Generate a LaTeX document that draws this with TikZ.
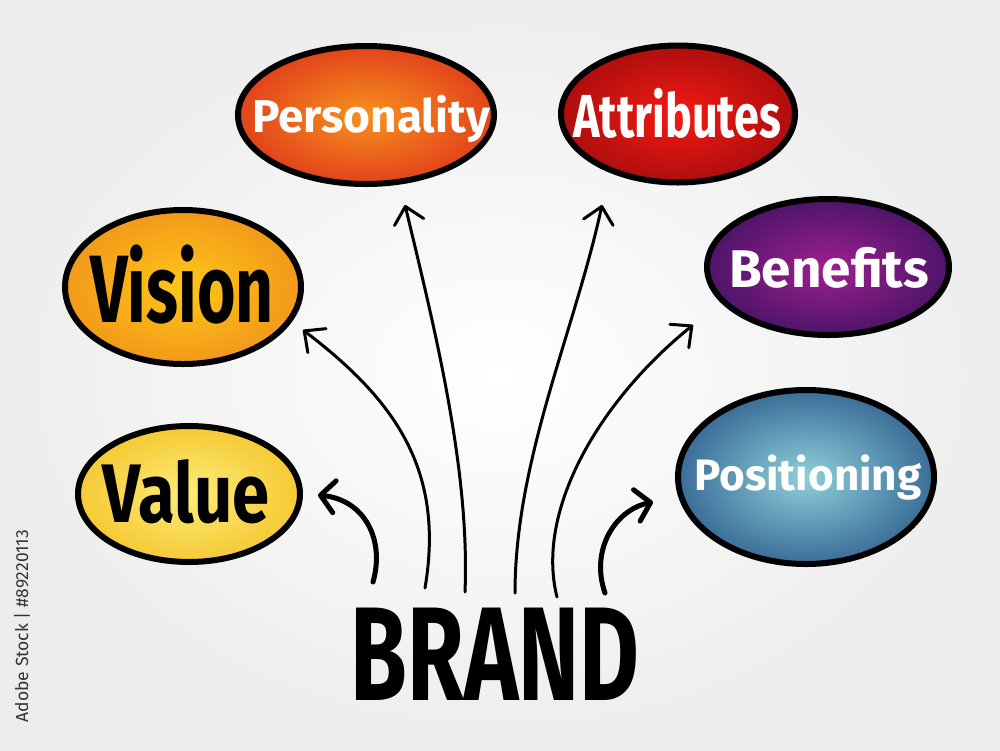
\documentclass[tikz,border=0pt]{standalone}
\usepackage{fontspec}
\usepackage{graphicx}
\setmainfont{Fira Sans}
\usetikzlibrary{shapes.geometric,arrows.meta}
\definecolor{persIn}{HTML}{F7921E}
\definecolor{persOut}{HTML}{E2431A}
\definecolor{attrIn}{HTML}{F41A12}
\definecolor{attrOut}{HTML}{AE0E0E}
\definecolor{visIn}{HTML}{FDC816}
\definecolor{visOut}{HTML}{F2991B}
\definecolor{valIn}{HTML}{FCEE78}
\definecolor{valOut}{HTML}{F5C934}
\definecolor{benIn}{HTML}{9E2090}
\definecolor{benOut}{HTML}{4E1468}
\definecolor{posIn}{HTML}{8ED0DA}
\definecolor{posOut}{HTML}{3A6D98}
\begin{document}
\begin{tikzpicture}[x=1pt,y=-1pt,
  bubble/.style={ellipse, draw=black, line width=6pt, inner sep=0pt},
  lbl/.style={anchor=base, inner sep=0pt},
  arr/.style={line width=3pt, line cap=round, -{Straight Barb[length=16pt,width=30pt,round]}},
  bigarr/.style={line width=5pt, line cap=round, -{Straight Barb[length=14pt,width=32pt,round]}}]
\useasboundingbox (0,0) rectangle (1000,750);
\shade[inner color=white, outer color=black!7] (0,0) rectangle (1000,750);

% bubbles
\node[bubble, minimum width=256pt, minimum height=138pt, inner color=persIn, outer color=persOut] (pers) at (366,115) {};
\node[bubble, minimum width=234pt, minimum height=137pt, inner color=attrIn, outer color=attrOut] (attr) at (678,114) {};
\node[bubble, minimum width=236pt, minimum height=154pt, inner color=visIn, outer color=visOut] (vis) at (183,287) {};
\node[bubble, minimum width=222pt, minimum height=136pt, inner color=valIn, outer color=valOut] (val) at (189,494) {};
\node[bubble, minimum width=242pt, minimum height=136pt, inner color=benIn, outer color=benOut] (ben) at (828,267) {};
\node[bubble, minimum width=256pt, minimum height=174pt, inner color=posIn, outer color=posOut] (pos) at (806,477) {};

% labels
\node[lbl, text=white, font=\bfseries\fontsize{46}{50}\selectfont] (persT) at (371,132) {Personality};
\node[lbl, text=white, font=\bfseries\fontsize{45}{50}\selectfont] (attrT) at (677,137) {\scalebox{1}[1.35]{Attributes}};
\node[lbl, text=black, font=\bfseries\fontsize{66}{70}\selectfont] (visT) at (182,322) {\scalebox{1}[1.45]{Vision}};
\node[lbl, text=black, font=\bfseries\fontsize{67}{70}\selectfont] (valT) at (186,522) {\scalebox{1}[1.24]{Value}};
\node[lbl, text=white, font=\bfseries\fontsize{53}{56}\selectfont] (benT) at (829,287) {Benefits};
\node[lbl, text=white, font=\bfseries\fontsize{44}{50}\selectfont] (posT) at (808,490) {Positioning};
\node[lbl, text=black, font=\bfseries\fontsize{92}{96}\selectfont] (brand) at (495,700) {\scalebox{1}[1.45]{BRAND}};

% watermark caption
\node[rotate=90, text=black!80, font=\fontsize{17.5}{18}\selectfont] (wm) at (22,626) {Adobe Stock | \#89220113};

% arrow ends
\coordinate (t1) at (373,582);
\coordinate (t2) at (425,588);
\coordinate (t3) at (465,592);
\coordinate (t4) at (515,593);
\coordinate (t5) at (557,597);
\coordinate (t6) at (605,593);
\coordinate (h1) at (318,495);
\coordinate (h2) at (303,330);
\coordinate (h3) at (405,205);
\coordinate (h4) at (602,205);
\coordinate (h5) at (693,325);
\coordinate (h6) at (653,502);

\draw[bigarr] (t1) .. controls (385,540) and (365,500) .. (h1);
\draw[arr] (t2) .. controls (445,470) and (395,400) .. (h2);
\draw[arr] (t3) .. controls (470,470) and (435,330) .. (h3);
\draw[arr] (t4) .. controls (515,460) and (575,330) .. (h4);
\draw[arr] (t5) .. controls (535,510) and (600,400) .. (h5);
\draw[bigarr] (t6) .. controls (590,550) and (615,510) .. (h6);
\end{tikzpicture}
\end{document}
